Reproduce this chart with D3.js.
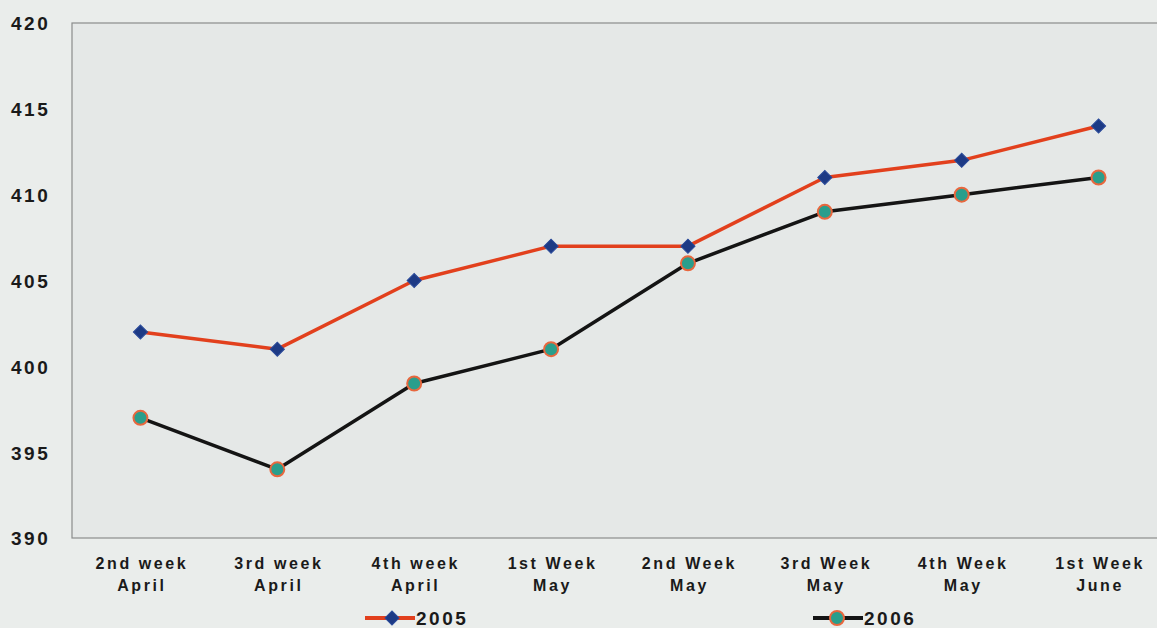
<!DOCTYPE html>
<html>
<head>
<meta charset="utf-8">
<script src="https://cdn.jsdelivr.net/npm/d3@7"></script>
<style>
  html, body { margin: 0; padding: 0; background: #eaedeb; }
  svg { display: block; }
  text { font-family: "Liberation Sans", Arial, sans-serif; font-weight: bold; fill: #1a1a1a; }
</style>
</head>
<body>
<svg id="chart" width="1157" height="628"></svg>
<script>
// Weekly readings, spring 2005 vs 2006
const categories = [
  ["2nd week", "April"], ["3rd week", "April"], ["4th week", "April"], ["1st Week", "May"],
  ["2nd Week", "May"], ["3rd Week", "May"], ["4th Week", "May"], ["1st Week", "June"]
];
const series2005 = [402, 401, 405, 407, 407, 411, 412, 414];
const series2006 = [397, 394, 399, 401, 406, 409, 410, 411];
const yTicks = [390, 395, 400, 405, 410, 415, 420];

const svg = d3.select("#chart");
const plot = { left: 72, top: 23, right: 1167, bottom: 538 };

const x = d3.scalePoint()
  .domain(d3.range(categories.length))
  .range([plot.left, plot.right])
  .padding(0.5);
const y = d3.scaleLinear().domain([390, 420]).range([plot.bottom, plot.top]);

// Plot area
svg.append("rect")
  .attr("x", plot.left).attr("y", plot.top)
  .attr("width", plot.right - plot.left).attr("height", plot.bottom - plot.top)
  .attr("fill", "#e5e8e7")
  .attr("stroke", "#8a8c8c").attr("stroke-width", 1.2);

// Y axis labels
const yAxis = d3.axisLeft(y).tickValues(yTicks).tickSize(0);
const gy = svg.append("g").attr("transform", `translate(${plot.left},0)`).call(yAxis);
gy.select(".domain").remove();
gy.selectAll("text")
  .attr("text-anchor", "start")
  .attr("x", -61)
  .attr("dy", "0.36em")
  .style("font-size", "19px")
  .style("letter-spacing", "2.5px");

// X axis labels (two lines)
const xAxis = d3.axisBottom(x).tickSize(0).tickFormat(() => "");
const gx = svg.append("g").attr("transform", `translate(0,${plot.bottom})`).call(xAxis);
gx.select(".domain").remove();
gx.selectAll(".tick").each(function(d) {
  const t = d3.select(this).append("text")
    .attr("text-anchor", "middle")
    .style("font-size", "16px")
    .style("letter-spacing", "2.6px");
  t.append("tspan").attr("x", 1).attr("y", 31).text(categories[d][0]);
  t.append("tspan").attr("x", 1).attr("y", 53).text(categories[d][1]);
});

const line = d3.line().x((d, i) => x(i)).y(d => y(d));

// 2005 series
svg.append("path").datum(series2005)
  .attr("d", line).attr("fill", "none")
  .attr("stroke", "#e2401d").attr("stroke-width", 3.5).attr("stroke-linejoin", "round");
svg.selectAll(".m05").data(series2005).join("path")
  .attr("class", "m05")
  .attr("d", d3.symbol().type(d3.symbolSquare).size(100))
  .attr("transform", (d, i) => `translate(${x(i)},${y(d)}) rotate(45)`)
  .attr("fill", "#1d3a85").attr("stroke", "#2a4a9a").attr("stroke-width", 1);

// 2006 series
svg.append("path").datum(series2006)
  .attr("d", line).attr("fill", "none")
  .attr("stroke", "#141414").attr("stroke-width", 3.5).attr("stroke-linejoin", "round");
svg.selectAll(".m06").data(series2006).join("circle")
  .attr("class", "m06")
  .attr("cx", (d, i) => x(i)).attr("cy", d => y(d)).attr("r", 7)
  .attr("fill", "#2a9e8c").attr("stroke", "#e8673e").attr("stroke-width", 2);

// Legend
const legend = [
  { label: "2005", x0: 365, color: "#e2401d", marker: "diamond" },
  { label: "2006", x0: 813, color: "#141414", marker: "circle" }
];
legend.forEach(l => {
  const g = svg.append("g").attr("transform", `translate(${l.x0},618)`);
  g.append("line").attr("x1", 0).attr("x2", 50).attr("y1", 0).attr("y2", 0)
    .attr("stroke", l.color).attr("stroke-width", 4);
  if (l.marker === "diamond") {
    g.append("path").attr("d", d3.symbol().type(d3.symbolSquare).size(100))
      .attr("transform", "translate(27,0) rotate(45)")
      .attr("fill", "#1d3a85").attr("stroke", "#2a4a9a");
  } else {
    g.append("circle").attr("cx", 24).attr("cy", 0).attr("r", 7)
      .attr("fill", "#2a9e8c").attr("stroke", "#e8673e").attr("stroke-width", 2);
  }
  g.append("text").attr("x", 51).attr("y", 7)
    .style("font-size", "19px").style("letter-spacing", "2.5px")
    .text(l.label);
});
</script>
</body>
</html>
